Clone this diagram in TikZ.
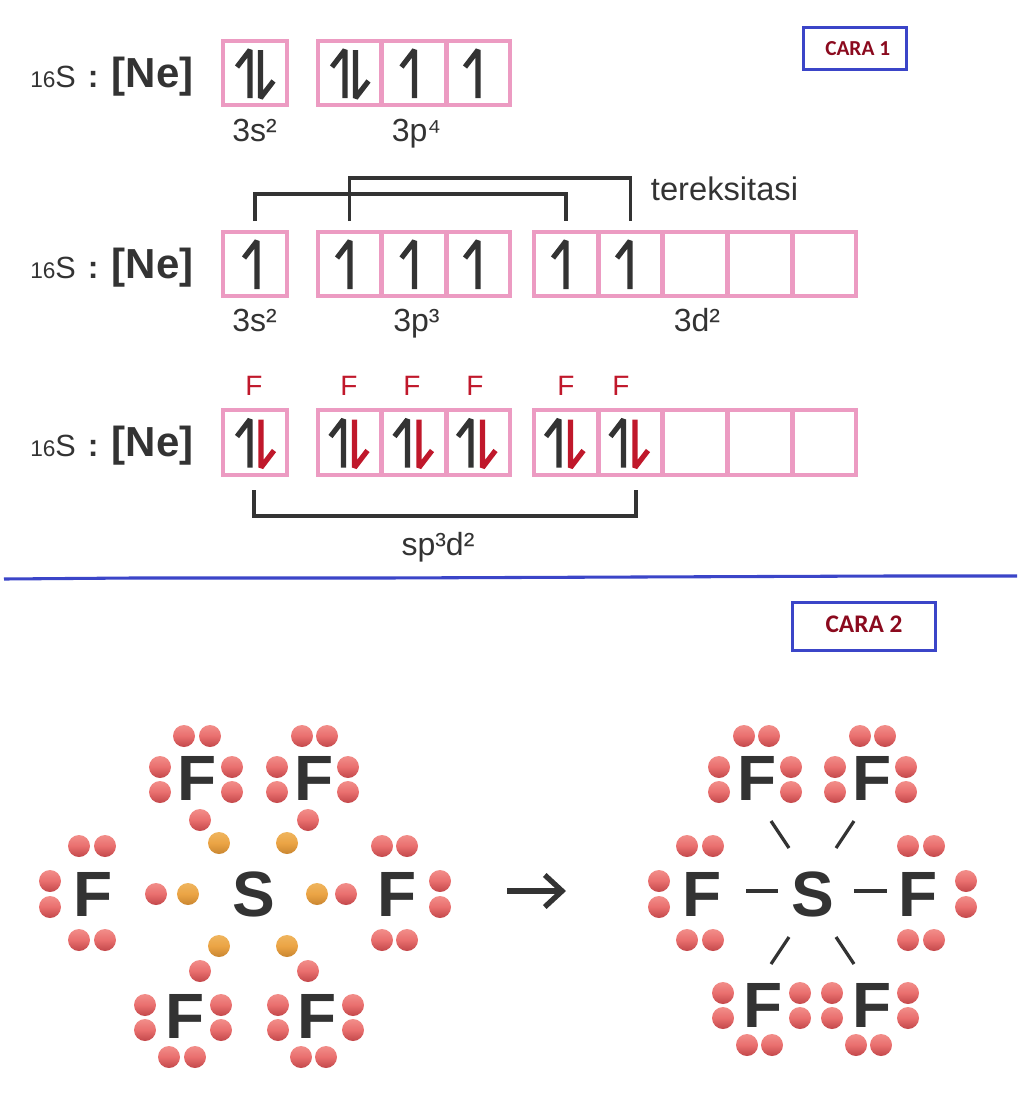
\documentclass[tikz,border=0pt]{standalone}
\usepackage{fontspec}
\setmainfont{Liberation Sans}
\newfontfamily\carafont{Carlito}
\usetikzlibrary{arrows.meta}
\definecolor{SLink}{HTML}{333333}
\definecolor{SPink}{HTML}{EC9BC2}
\definecolor{SRed}{HTML}{C0182B}
\definecolor{SBlue}{HTML}{3B45C8}
\definecolor{SCara}{HTML}{8B0A1E}
\definecolor{SDotTop}{HTML}{F28E8A}
\definecolor{SDotMid}{HTML}{E96F6E}
\definecolor{SDotLow}{HTML}{C2474A}
\definecolor{SYelTop}{HTML}{EFB55E}
\definecolor{SYelMid}{HTML}{EBA445}
\definecolor{SYelLow}{HTML}{C98630}
\begin{document}
\begin{tikzpicture}[x=.75pt,y=-.75pt,
 orb/.style={draw=SPink,line width=3pt,fill=white,minimum width=47.5pt,minimum height=48.5pt,inner sep=0pt,outer sep=0pt},
 spin/.style={SLink,line width=3.9pt,line join=bevel},
 upspin/.pic={\draw[spin] (-13,-6)--(0,-23)--(0,25);},
 downspin/.pic={\draw[spin] (0,-23)--(0,25)--(13,8);},
 redspin/.pic={\draw[spin,SRed] (0,-23)--(0,25)--(13,8);},
 link/.style={SLink,line width=2.4pt},
 rowlab/.style={anchor=base,text=SLink,font=\fontsize{24}{26}\selectfont},
 flab/.style={text=SRed,font=\fontsize{21}{24}\selectfont},
 cara/.style={draw=SBlue,line width=2.4pt,inner sep=0pt,text=SCara},
 atom/.style={text=SLink,font=\fontsize{48}{50}\selectfont\bfseries},
 dotred/.style={top color=SDotTop,bottom color=SDotLow,middle color=SDotMid},
 dotyel/.style={top color=SYelTop,bottom color=SYelLow,middle color=SYelMid},
]
\useasboundingbox (0,0) rectangle (1023,1103);
% orbital rows
\foreach \r/\y in {a/73,b/264,c/442.5}{
 \node[anchor=base west,text=SLink,inner sep=0pt] (head\r) at (30,\y+14) {{\fontsize{17}{20}\selectfont 16}{\fontsize{23}{24}\selectfont S}\hspace{9pt}{\fontsize{24}{26}\selectfont\bfseries :}\hspace{10pt}{\fontsize{31.5}{32}\selectfont\bfseries [Ne]}};
 \node[orb] (\r s) at (255,\y) {};
 \foreach \i/\x in {1/349.5,2/414,3/478.5}{\node[orb] (\r p\i) at (\x,\y) {};}
}
\foreach \r/\y in {b/264,c/442.5}{
 \foreach \i/\x in {1/566,2/630.5,3/695,4/760,5/824.5}{\node[orb] (\r d\i) at (\x,\y) {};}
}
% spins
\foreach \x in {250,345}{\pic at (\x,73) {upspin};}
\foreach \x in {260.5,355.5}{\pic at (\x,73) {downspin};}
\foreach \x in {414.5,478}{\pic at (\x,73) {upspin};}
\foreach \x in {257,350,414.5,478,566,630}{\pic at (\x,264) {upspin};}
\foreach \x in {250,343.5,407.5,471,559,623.5}{\pic at (\x,442.5) {upspin};}
\foreach \x in {261,354.5,419,482.5,570.5,635}{\pic at (\x,442.5) {redspin};}
% labels
\node[rowlab] (la) at (254.5,141) {3s²};
\node[rowlab] (lb) at (416.5,141) {3p⁴};
\node[rowlab] (lc) at (254.5,331) {3s²};
\node[rowlab] (ld) at (416.5,331) {3p³};
\node[rowlab] (le) at (697,331) {3d²};
\node[rowlab] (lf) at (438,555) {sp³d²};
\node[rowlab,font=\fontsize{24.5}{26}\selectfont] (ex) at (724.5,200) {tereksitasi};
\foreach \i/\x in {1/254,2/349,3/412,4/475,5/566,6/621}{\node[flab] (fl\i) at (\x,386) {F};}
% brackets
\coordinate (ua) at (400,194);
\coordinate (ub) at (500,178);
\coordinate (uc) at (254,516);
\coordinate (ud) at (636,490);
\coordinate (ue) at (254,490);
\draw[link,shorten <=8pt,shorten >=8pt] (bs.north) |- (ua) -| (bd1.north);
\draw[link,shorten <=8pt,shorten >=8pt] (bp1.north) |- (ub) -| (bd2.north);
\draw[link] (ue) -- (uc) -| (ud);
% divider and boxes
\draw[SBlue,line width=2.3pt] (4,579)--(132,578)--(385,578)--(637,577)--(890,576)--(1017,576);
\node[cara,minimum width=77pt,minimum height=31pt,font=\carafont\bfseries\fontsize{16}{18}\selectfont] (cara1) at (855,48.5) {\hspace{4pt}CARA 1};
\node[cara,minimum width=107pt,minimum height=36pt,font=\carafont\bfseries\fontsize{19}{20}\selectfont] (cara2) at (864,626.5) {\raisebox{4pt}{CARA 2}\hspace{11pt}};
% molecule left
\node[atom] (S) at (254,894) {S};
\node[atom] (Fa) at (197,778) {F};
\node[atom] (Fb) at (314,778) {F};
\node[atom] (Fc) at (93,894) {F};
\node[atom] (Fd) at (397,894) {F};
\node[atom] (Fe) at (185,1016) {F};
\node[atom] (Ff) at (317,1016) {F};
\foreach \x/\y in {184/736,210/736,160/767,160/792,232/767,232/792,302/736,327/736,277/767,277/792,348/767,348/792,
 79/846,105/846,79/940,105/940,50/881,50/907,382/846,407/846,382/940,407/940,440/881,440/907,
 145/1005,145/1030,221/1005,221/1030,169/1057,195/1057,278/1005,278/1030,353/1005,353/1030,301/1057,326/1057,
 200/820,308/820,156/894,346/894,200/971,308/971}{
 \shade[dotred] (\x,\y) circle (11);
}
\foreach \x/\y in {219/843,287/843,188/894,317/894,219/946,287/946}{
 \shade[dotyel] (\x,\y) circle (11);
}
% reaction arrow
\coordinate (ra) at (507,891);
\coordinate (rb) at (566,891);
\draw[SLink,line width=4pt,-{Straight Barb[length=13pt,width=24pt,line width=4pt]}] (ra) -- (rb);
% molecule right
\node[atom] (S2) at (813,894) {S};
\node[atom] (Fg) at (757,778) {F};
\node[atom] (Fh) at (872,778) {F};
\node[atom] (Fi) at (702,894) {F};
\node[atom] (Fj) at (918,894) {F};
\node[atom] (Fk) at (763,1005) {F};
\node[atom] (Fl) at (872,1005) {F};
\foreach \x/\y in {744/736,769/736,719/767,719/792,791/767,791/792,860/736,885/736,835/767,835/792,906/767,906/792,
 687/846,713/846,687/940,713/940,659/881,659/907,908/846,934/846,908/940,934/940,966/881,966/907,
 723/993,723/1018,800/993,800/1018,747/1045,772/1045,832/993,832/1018,908/993,908/1018,856/1045,881/1045}{
 \shade[dotred] (\x,\y) circle (11);
}
\foreach \n/\x/\y/\u/\v in {a/771/821/789/848,b/854/821/836/848,c/746/891/778/891,d/854/891/887/891,e/789/937/771/964,f/836/937/854/964}{
 \coordinate (bnd\n) at (\x,\y);
 \coordinate (bne\n) at (\u,\v);
 \draw[link] (bnd\n) -- (bne\n);
}
\end{tikzpicture}
\end{document}
